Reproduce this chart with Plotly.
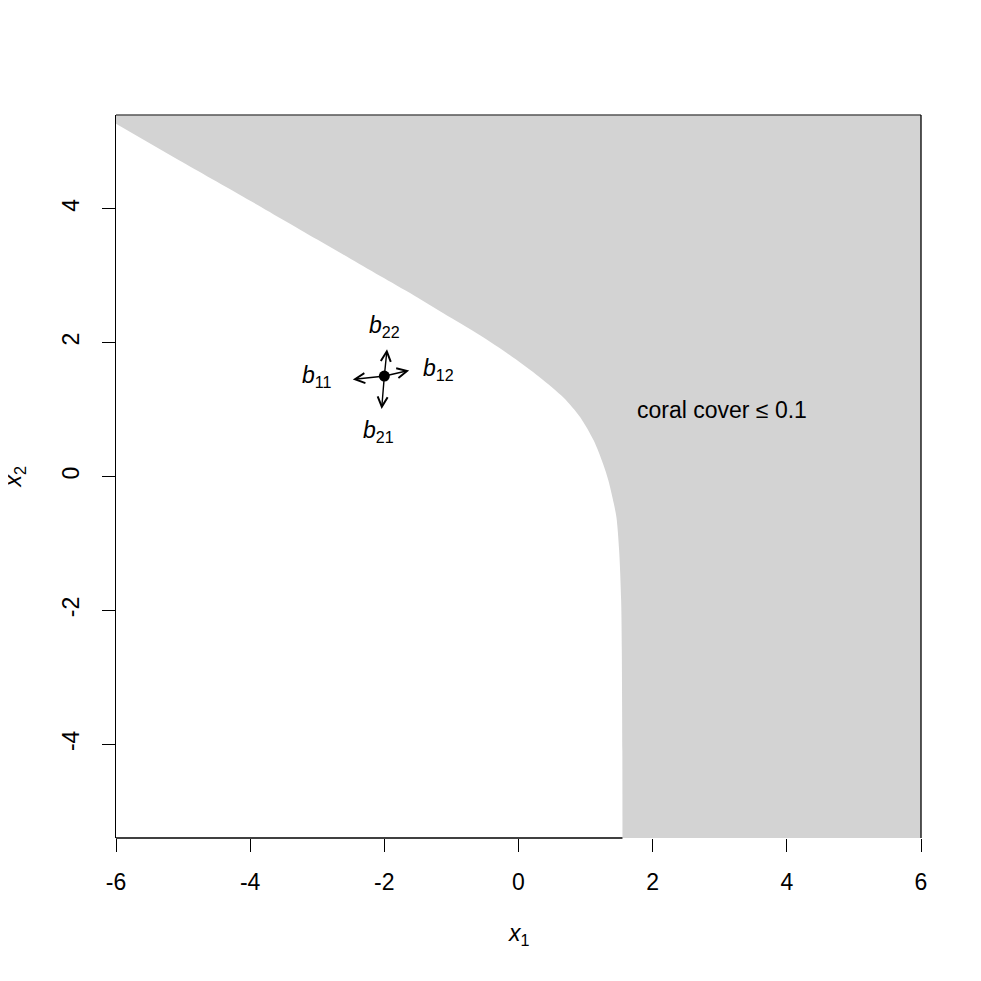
import plotly.graph_objects as go

# axis extents
X1_RANGE = [-6, 6]
X2_RANGE = [-5.4, 5.4]

# boundary of the "coral cover <= 0.1" region
x1_boundary = [-6.0, -5.0, -4.0, -3.0, -2.5, -2.0, -1.5, -1.17, -0.67, -0.18,
               0.32, 0.67, 0.92, 1.12, 1.26, 1.34, 1.42, 1.46, 1.50, 1.53,
               1.54, 1.548, 1.55]
x2_boundary = [5.27, 4.69, 4.12, 3.54, 3.25, 2.96, 2.67, 2.47, 2.17, 1.85,
               1.48, 1.18, 0.885, 0.54, 0.19, -0.06, -0.4, -0.61, -1.10, -1.85,
               -2.6, -4.1, -5.4]

# current point and the four directions
point_x1 = [-2.0]
point_x2 = [1.5]
arrow_tip_x1 = [-1.63, -2.47, -1.96, -2.04]
arrow_tip_x2 = [1.585, 1.45, 1.90, 1.01]

# labels next to the arrows
label_text = ["<i>b</i><sub>12</sub>", "<i>b</i><sub>11</sub>",
              "<i>b</i><sub>22</sub>", "<i>b</i><sub>21</sub>"]
label_x1 = [-1.2, -3.0, -2.0, -2.08]
label_x2 = [1.6, 1.5, 2.24, 0.67]

region_label = "coral cover \u2264 0.1"
region_label_x1 = [3.03]
region_label_x2 = [0.99]

x1_ticks = [-6, -4, -2, 0, 2, 4, 6]
x1_tick_labels = ["-6", "-4", "-2", "0", "2", "4", "6"]
x2_ticks = [-4, -2, 0, 2, 4]
x2_tick_labels = ["-4", "-2", "0", "2", "4"]

FONT = "Liberation Sans, Arial, Helvetica, sans-serif"
FS = 23
GRAY = '#d3d3d3'

fig = go.Figure()
# outer edge (top left -> top right -> bottom right); the boundary fills to it
fig.add_trace(go.Scatter(x=[X1_RANGE[0], X1_RANGE[1], X1_RANGE[1]],
                         y=[X2_RANGE[1], X2_RANGE[1], X2_RANGE[0]],
                         mode='lines', line=dict(width=0), hoverinfo='skip'))
fig.add_trace(go.Scatter(x=x1_boundary, y=x2_boundary, mode='lines', fill='tonextx',
                         fillcolor=GRAY, line=dict(width=0, shape='spline', smoothing=0.8),
                         hoverinfo='skip'))
fig.add_trace(go.Scatter(x=point_x1, y=point_x2, mode='markers',
                         marker=dict(color='black', size=11)))

annotations = []
for tx, ty in zip(arrow_tip_x1, arrow_tip_x2):
    annotations.append(dict(x=tx, y=ty, ax=point_x1[0], ay=point_x2[0],
                            xref='x', yref='y', axref='x', ayref='y',
                            showarrow=True, arrowhead=5, arrowsize=1.4,
                            arrowwidth=1.4, arrowcolor='black', text=''))
for t, lx, ly in zip(label_text, label_x1, label_x2):
    annotations.append(dict(x=lx, y=ly, xref='x', yref='y', text=t,
                            showarrow=False, font=dict(size=FS, color='black')))
annotations.append(dict(x=region_label_x1[0], y=region_label_x2[0], xref='x', yref='y',
                        text=region_label, showarrow=False,
                        font=dict(size=FS, color='black')))
# axis titles
annotations.append(dict(x=0.5, y=-0.134, xref='paper', yref='paper',
                        xanchor='center', yanchor='middle',
                        text="<i>x</i><sub>1</sub>", showarrow=False,
                        font=dict(size=FS, color='black')))
annotations.append(dict(x=-0.1255, y=0.5, xref='paper', yref='paper',
                        xanchor='center', yanchor='middle',
                        text="<i>x</i><sub>2</sub>", showarrow=False, textangle=-90,
                        font=dict(size=FS, color='black')))

# frame: top, right, and bottom up to where the shading starts
box = dict(color='black', width=1.3)
shapes = [
    dict(type='line', xref='paper', yref='paper', x0=0, x1=1, y0=1, y1=1,
         line=dict(color='#555555', width=1.3)),
    dict(type='line', xref='paper', yref='paper', x0=1, x1=1, y0=0, y1=1, line=box),
    dict(type='line', xref='x', yref='paper', x0=X1_RANGE[0], x1=x1_boundary[-1],
         y0=0, y1=0, line=box),
]

# the page body has an 8px margin, so the figure is 965 wide and margins are shifted
fig.update_layout(
    width=965, height=965,
    margin=dict(l=108, r=52, t=107, b=135),
    plot_bgcolor='white', paper_bgcolor='white',
    font=dict(family=FONT, size=FS, color='black'),
    showlegend=False,
    annotations=annotations,
    shapes=shapes,
    xaxis=dict(range=X1_RANGE, tickvals=x1_ticks, ticktext=x1_tick_labels,
               showgrid=False, zeroline=False, showline=False,
               ticks='outside', ticklen=13, tickwidth=1.3, tickcolor='black',
               ticklabelstandoff=10),
    yaxis=dict(range=X2_RANGE, tickvals=x2_ticks, ticktext=x2_tick_labels,
               showgrid=False, zeroline=False, showline=True, linecolor='black',
               linewidth=1.3, ticks='outside', ticklen=13, tickwidth=1.3,
               tickcolor='black', tickangle=-90, ticklabelstandoff=14),
)

fig.write_html("out.html")
